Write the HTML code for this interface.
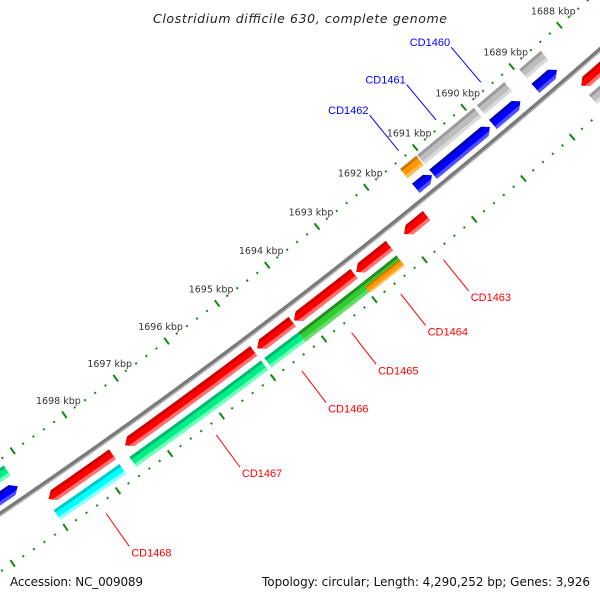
<!DOCTYPE html>
<html><head><meta charset="utf-8"><style>
html,body{margin:0;padding:0;background:#fff;width:600px;height:600px;overflow:hidden}
svg{display:block}
</style></head><body>
<svg id="map" xmlns="http://www.w3.org/2000/svg" width="600" height="600" viewBox="0 0 600 600">
<rect width="600" height="600" fill="#fff"/>
<g id="rulers"></g>
<g id="backbone"></g>
<g id="features"></g>
<g id="labels"></g>
<text x="300" y="23" text-anchor="middle" font-family="DejaVu Sans, sans-serif" font-style="italic" font-size="12.5" fill="#222" textLength="294">Clostridium difficile 630, complete genome</text>
<text x="10" y="586" font-family="DejaVu Sans, sans-serif" font-size="12" fill="#111" textLength="133">Accession: NC_009089</text>
<text x="590" y="586" text-anchor="end" font-family="DejaVu Sans, sans-serif" font-size="12" fill="#111" textLength="328">Topology: circular; Length: 4,290,252 bp; Genes: 3,926</text>
</svg>
<script>
// ---- data ----
const tickKbp = [1688,1689,1690,1691,1692,1693,1694,1695,1696,1697,1698];
const fwdStart = [1688490, 1689250, 1689880, 1691070, 1699250];
const fwdEnd   = [1688940, 1689820, 1691050, 1691400, 1700900];
const fwdCog   = ['S','S','S','O','T'];
const fwdLabels = ['', 'CD1460', 'CD1461', 'CD1462', ''];
const revStart = [1687300, 1691540, 1692290, 1693000, 1694230, 1694990, 1697740];
const revEnd   = [1688370, 1692000, 1692960, 1694200, 1694925, 1697500, 1698970];
const revCogStart = [1687300, null, 1692300, 1692300, 1694260, 1694990, 1697740];
const revCogEnd   = [1688370, null, 1692990, 1694260, 1694925, 1697550, 1699000];
const revCog   = ['S', null, 'O', 'G', 'T', 'T', 'C'];
const revLabels = ['', 'CD1463', 'CD1464', 'CD1465', 'CD1466', 'CD1467', 'CD1468'];

// ---- styles / geometry ----
const COLORS = {
  S:['#bdbdbd','#9a9a9a','#d9d9d9'], O:['#ff9900','#d07800','#ffbb55'],
  G:['#33cc33','#229022','#66dd66'], T:['#00ee88','#00b870','#70ffbb'],
  C:['#00ffff','#00c8c8','#90ffff'], BLUE:['#0000ff','#0000b0','#5050ff'],
  RED:['#ff0000','#cc0000','#ff7070']
};
const CX=-3404, CY=-4502, A0=48.8, DEG_PER_BP=0.0006, BP0=1688000;
const R_RULER1=6017, R_GRAY=6030, R_BLUE=6049, R_BB=6062, R_RED=6077, R_GREEN=6095, R_RULER2=6110;
const NS='http://www.w3.org/2000/svg';
function ang(bp){return (A0+(bp-BP0)*DEG_PER_BP)*Math.PI/180;}
function pt(bp,r){const a=ang(bp);return [CX+r*Math.cos(a), CY+r*Math.sin(a)];}
function arc(b0,b1,r){const n=Math.max(2,Math.ceil(Math.abs(b1-b0)/50));const o=[];for(let i=0;i<=n;i++){o.push(pt(b0+(b1-b0)*i/n,r));}return o;}
function toD(pts,close){return pts.map((p,i)=>(i?'L':'M')+p[0].toFixed(2)+' '+p[1].toFixed(2)).join(' ')+(close?' Z':'');}
function el(tag,attrs,parent){const e=document.createElementNS(NS,tag);for(const k in attrs)e.setAttribute(k,attrs[k]);parent.appendChild(e);return e;}
let clipId=0;
function feature(parent,bA,bB,rc,h,head,col,name){
  const r0=rc-h/2,r1=rc+h/2,L=Math.min(110,(bB-bA)*0.5);
  let pts;
  if(head==='hi') pts=arc(bA,bB-L,r0).concat([pt(bB,rc)],arc(bB-L,bA,r1));
  else if(head==='lo') pts=[pt(bA,rc)].concat(arc(bA+L,bB,r0),arc(bB,bA+L,r1));
  else pts=arc(bA,bB,r0).concat(arc(bB,bA,r1));
  const d=toD(pts,true);
  const defs=el('defs',{},parent);
  const cp=el('clipPath',{id:'c'+(++clipId)},defs);
  el('path',{d:d},cp);
  const g=el('g',{'clip-path':'url(#c'+clipId+')'},parent);
  
  
  el('path',{d:d,fill:col[0]},g);
  el('path',{d:toD(arc(bA-300,bB+300,r0+h*0.12),false),stroke:col[1],'stroke-width':h*0.26,fill:'none'},g);
  el('path',{d:toD(arc(bA-300,bB+300,r1-h*0.14),false),stroke:col[2],'stroke-width':h*0.3,fill:'none'},g);
}

// ---- rulers ----
const rul=document.getElementById('rulers');
const B_MIN=1686000,B_MAX=1701500;
[R_RULER1,R_RULER2].forEach((R,ri)=>{
  for(let b=B_MIN;b<=B_MAX;b+=200){
    const major=(b%1000===0);
    if(major){
      const p0=pt(b,R-4),p1=pt(b,R+4);
      const t=el('line',{x1:p0[0],y1:p0[1],x2:p1[0],y2:p1[1],stroke:'#118811','stroke-width':2},rul);
      
      
    } else {
      const p0=pt(b,R-1),p1=pt(b,R+1);
      const t=el('line',{x1:p0[0],y1:p0[1],x2:p1[0],y2:p1[1],stroke:'#118811','stroke-width':2},rul);
      
      
    }
  }
});
tickKbp.forEach(k=>{
  const p=pt(k*1000,R_RULER1);
  const t=el('text',{x:(p[0]-6).toFixed(1),y:(p[1]-11).toFixed(1),'text-anchor':'middle','font-family':'DejaVu Sans, sans-serif','font-size':'9.5',fill:'#333'},rul);
  t.textContent=k+' kbp';
  
  
});

// ---- backbone ----
const bb=document.getElementById('backbone');
const bd=toD(arc(B_MIN,B_MAX,R_BB),false);
const bl=el('path',{d:bd,stroke:'#7a7a7a','stroke-width':4.5,fill:'none'},bb);


el('path',{d:toD(arc(B_MIN,B_MAX,R_BB+1.6),false),stroke:'#b8b8b8','stroke-width':1.3,fill:'none'},bb);

// ---- features ----
const fg=document.getElementById('features');
for(let i=0;i<fwdStart.length;i++){
  feature(fg,fwdStart[i],fwdEnd[i],R_GRAY,12,null,COLORS[fwdCog[i]],'forward-cog-'+i);
  feature(fg,fwdStart[i],fwdEnd[i],R_BLUE,12,'lo',COLORS.BLUE,'forward-gene-'+i);
}
for(let i=0;i<revStart.length;i++){
  feature(fg,revStart[i],revEnd[i],R_RED,12,'hi',COLORS.RED,'reverse-gene-'+i);
}
for(let i=0;i<revStart.length;i++){
  if(revCog[i]==='G') feature(fg,revCogStart[i],revCogEnd[i],R_GREEN,12,null,COLORS.G,'reverse-cog-'+i);
}
for(let i=0;i<revStart.length;i++){
  if(!revCog[i]||revCog[i]==='G') continue;
  if(revCog[i]==='O') feature(fg,revCogStart[i],revCogEnd[i],R_GREEN+3,8,null,COLORS.O,'reverse-cog-'+i);
  else feature(fg,revCogStart[i],revCogEnd[i],R_GREEN,12,null,COLORS[revCog[i]],'reverse-cog-'+i);
}

// ---- labels ----
const lg=document.getElementById('labels');
for(let i=0;i<fwdStart.length;i++){
  if(!fwdLabels[i]) continue;
  const m=(fwdStart[i]+fwdEnd[i])/2, p0=pt(m,6009), p1=pt(m,5963);
  const ln=el('line',{x1:p0[0],y1:p0[1],x2:p1[0],y2:p1[1],stroke:'#0000ff','stroke-width':1},lg);
  
  
  const t=el('text',{x:(p1[0]-1).toFixed(1),y:(p1[1]-1).toFixed(1),'text-anchor':'end','font-family':'Liberation Sans, sans-serif','font-size':'11',fill:'#0000ff'},lg);
  t.textContent=fwdLabels[i];
  
  
}
for(let i=0;i<revStart.length;i++){
  if(!revLabels[i]) continue;
  const m=(revStart[i]+revEnd[i])/2, p0=pt(m,6122), p1=pt(m,6162);
  const ln=el('line',{x1:p0[0],y1:p0[1],x2:p1[0],y2:p1[1],stroke:'#ff0000','stroke-width':1},lg);
  
  
  const t=el('text',{x:(p1[0]+2).toFixed(1),y:(p1[1]+10).toFixed(1),'font-family':'Liberation Sans, sans-serif','font-size':'11',fill:'#ff0000'},lg);
  t.textContent=revLabels[i];
  
  
}
</script>
</body></html>
